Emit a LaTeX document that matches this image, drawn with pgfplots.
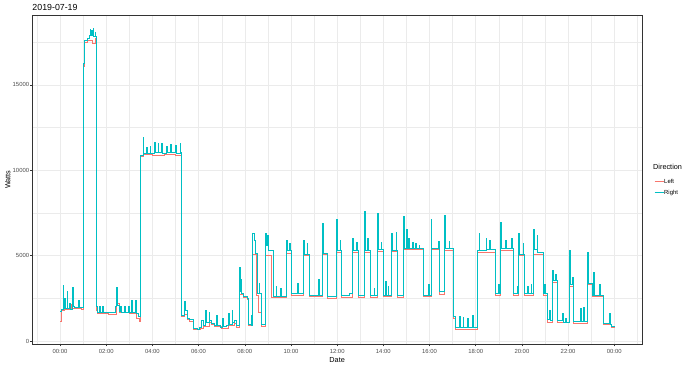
\documentclass[border=0pt]{standalone}
\usepackage{pgfplots}
\pgfplotsset{compat=1.18}
\usepackage{fontspec}
\setmainfont{Liberation Sans}
\definecolor{cLeft}{HTML}{F8766D}
\definecolor{cRight}{HTML}{00BFC4}
\definecolor{gridc}{HTML}{EBEBEB}
\definecolor{grey20}{HTML}{333333}
\definecolor{grey30}{HTML}{4D4D4D}
\begin{document}
\begin{tikzpicture}
\path[use as bounding box] (-32.3pt,-22.7pt) rectangle (657.7pt,344.3pt);
\begin{axis}[
  at={(0pt,0pt)}, anchor=south west,
  scale only axis, width=609.7pt, height=329.3pt,
  xmin=-1.2, xmax=25.2, ymin=-193, ymax=19098,
  scaled x ticks=false, scaled y ticks=false,
  xtick={0,2,...,24},
  xticklabels={00:00,02:00,04:00,06:00,08:00,10:00,12:00,14:00,16:00,18:00,20:00,22:00,00:00},
  ytick={0,5000,10000,15000},
  yticklabels={0,5000,10000,15000},
  minor xtick={-1,1,...,25},
  minor ytick={2500,7500,12500,17500},
  grid=both,
  major grid style={draw=gridc, line width=0.55pt},
  minor grid style={draw=gridc, line width=0.3pt},
  minor tick length=0pt,
  major tick length=2pt,
  tick align=outside,
  xtick pos=bottom, ytick pos=left,
  tick style={draw=grey20, line width=0.5pt},
  axis line style={draw=grey20, line width=0.5pt},
  xticklabel style={font=\fontsize{5.9}{6}\selectfont, text=grey30, inner sep=0pt, yshift=-2.6pt},
  yticklabel style={font=\fontsize{5.9}{6}\selectfont, text=grey30, inner sep=0pt, xshift=-1pt},
  title={2019-07-19},
  every axis title/.style={at={(axis description cs:0,1)}, anchor=south west, inner sep=0pt, yshift=4.5pt, font=\fontsize{8.8}{9}\selectfont},
  xlabel={Date}, ylabel={Watts},
  every axis x label/.style={at={(axis description cs:0.5,-0.0477)}, anchor=center, font=\fontsize{7.3}{8}\selectfont},
  every axis y label/.style={at={(axis description cs:-0.0399,0.5)}, rotate=90, anchor=center, font=\fontsize{7.3}{8}\selectfont},
  clip mode=individual,
  legend style={at={(axis description cs:1.0197,0.503)}, anchor=north west, draw=none, fill=none, inner sep=0pt,
    row sep=5.5pt, font=\fontsize{5.9}{6}\selectfont,
    nodes={inner sep=0pt, text height=4.3pt, text depth=1.2pt},
    /tikz/every even column/.append style={column sep=5pt}},
  legend cell align=left,
  legend image code/.code={\draw[#1, line width=1pt] (0pt,0pt) -- (9pt,0pt);},
]
\addplot[const plot mark left, draw=cLeft, line width=0.8pt] coordinates {
(0.00,1130) (0.04,1800) (0.20,1850) (0.42,2150) (0.50,1850) (0.55,1900) (0.92,1880)
(1.00,16100) (1.04,17500) (1.20,17600) (1.40,17450) (1.55,17700)
(1.57,1800) (1.62,1600) (2.10,1580) (2.42,2200) (2.55,1650) (3.00,1600) (3.30,1350) (3.45,1150)
(3.50,10800) (3.60,10950) (4.00,10900) (4.50,10950) (5.00,10900)
(5.27,1450) (5.40,1550) (5.50,1250) (5.60,1150) (5.79,680) (6.10,750) (6.20,850) (6.45,1100) (6.55,950)
(6.70,850) (7.00,750) (7.30,900) (7.55,1050) (7.62,820)
(7.76,2750) (7.95,2550) (8.10,2450) (8.16,900) (8.33,5100) (8.50,2700) (8.60,1700) (8.74,850)
(8.91,5000) (9.17,2550) (9.79,5150) (10.04,2700) (10.55,5000) (10.78,2600) (11.38,5050) (11.57,2500)
(11.95,5200) (12.20,2550) (12.68,5200) (12.92,2550) (13.19,5200) (13.42,2550) (13.74,5250) (14.01,2600)
(14.37,5230) (14.62,2580) (14.85,5350) (15.74,2600) (16.06,5350) (16.44,2750) (16.65,5300)
(17.04,1300) (17.12,700) (18.06,3400) (18.09,5200) (18.85,2700) (19.05,5300) (19.63,2700)
(19.86,5000) (20.11,2700) (20.51,5100) (20.91,2700) (21.09,1100) (21.33,3450) (21.52,1100)
(22.05,3200) (22.25,1030) (22.82,3300) (23.04,2590) (23.54,950) (23.86,800) (24.05,800)
};
\addlegendentry{Left}
\addplot[const plot mark left, draw=cRight, line width=0.8pt] coordinates {
(0.00,1750) (0.05,1880) (0.13,3250) (0.16,1900) (0.20,2500) (0.23,1900) (0.30,2900) (0.34,1900)
(0.40,2200) (0.43,1880) (0.53,3150) (0.56,2000) (0.62,1950) (0.80,2400) (0.83,1950) (0.92,1950)
(1.00,16270) (1.04,17600) (1.20,17700) (1.28,17900) (1.30,18250) (1.33,17900) (1.36,18200) (1.39,17900)
(1.43,18300) (1.46,17850) (1.52,18100) (1.55,17850)
(1.57,2000) (1.62,1700) (1.72,2050) (1.76,1700) (1.82,2050) (1.86,1700) (2.00,1700) (2.15,1650)
(2.40,2000) (2.46,3150) (2.49,2100) (2.55,1750) (2.62,2000) (2.66,1700) (2.78,2050) (2.82,1700)
(2.95,2000) (3.00,1700) (3.10,2400) (3.14,1700) (3.25,2400) (3.29,1600) (3.38,1450)
(3.50,10900) (3.60,11950) (3.63,11000) (3.75,11370) (3.78,11000) (3.90,11400) (3.93,11000)
(4.10,11650) (4.13,11050) (4.25,11600) (4.28,11050) (4.40,11550) (4.43,11000) (4.60,11400) (4.63,11050)
(4.80,11500) (4.83,11050) (5.00,11450) (5.03,11000) (5.20,11600) (5.23,11050)
(5.27,1500) (5.40,2300) (5.43,1800) (5.50,1350) (5.60,1250) (5.79,750) (5.95,700) (6.05,800)
(6.12,1200) (6.20,900) (6.30,1800) (6.33,1100) (6.45,1700) (6.48,1200) (6.55,1050) (6.70,900)
(6.78,1500) (6.81,900) (6.95,800) (7.05,1300) (7.08,850) (7.20,900) (7.30,1600) (7.33,1000)
(7.45,1800) (7.48,1100) (7.55,1200) (7.62,900)
(7.76,4300) (7.80,2900) (7.83,3600) (7.86,2800) (7.95,2600) (8.10,2500)
(8.16,1000) (8.27,1500) (8.30,900) (8.35,6300) (8.40,5900) (8.45,5150) (8.55,2800) (8.62,3400) (8.65,2800)
(8.74,950) (8.91,6300) (8.95,5600) (9.00,6200) (9.04,5300)
(9.22,2630) (9.35,3200) (9.38,2630) (9.55,3100) (9.58,2630)
(9.79,5900) (9.83,5300) (9.95,5700) (9.98,5300) (10.04,2800) (10.30,3400) (10.33,2800)
(10.55,5900) (10.59,5100) (10.70,5700) (10.73,5100) (10.78,2700) (11.20,3600) (11.23,2700)
(11.38,6900) (11.42,5150) (11.57,2600) (11.95,7100) (11.99,5300) (12.12,5900) (12.15,5300)
(12.20,2650) (12.55,2800) (12.68,6000) (12.72,5300) (12.83,5800) (12.86,5300) (12.92,2650)
(13.19,7600) (13.23,5300) (13.33,6000) (13.36,5300) (13.42,2650) (13.60,3100) (13.63,2650)
(13.74,7500) (13.78,5350) (13.90,5800) (13.93,5350) (14.01,2700) (14.10,3500) (14.13,2700)
(14.20,3200) (14.23,2700) (14.37,6300) (14.41,5330) (14.55,6350) (14.58,5330) (14.62,2690)
(14.85,7320) (14.89,5450) (15.00,6550) (15.03,5450) (15.10,6000) (15.13,5450) (15.25,5800) (15.28,5450)
(15.40,5700) (15.43,5400) (15.55,5600) (15.58,5400) (15.74,2700) (15.95,3300) (15.98,2700)
(16.06,7100) (16.10,5450) (16.38,5820) (16.41,5450) (16.44,2900) (16.65,7380) (16.69,5400)
(16.85,5850) (16.88,5400) (17.04,1430) (17.12,800) (17.30,1450) (17.33,800) (17.45,1400) (17.48,780)
(17.65,1300) (17.68,770) (17.85,1500) (17.88,770) (18.06,3600) (18.09,5300) (18.15,6300) (18.18,5300)
(18.45,6000) (18.48,5350) (18.60,5900) (18.63,5350) (18.85,2800) (19.00,3300) (19.03,2800)
(19.05,6930) (19.09,5400) (19.30,5900) (19.33,5400) (19.55,6000) (19.58,5400) (19.63,2800)
(19.80,3200) (19.83,2800) (19.86,6300) (19.90,5100) (20.05,5700) (20.08,5100) (20.11,2800)
(20.25,3200) (20.28,2800) (20.40,3300) (20.43,2800) (20.51,6540) (20.55,5350) (20.65,6200) (20.68,5200)
(20.91,2800) (20.98,3300) (21.01,2800) (21.09,1250) (21.20,1800) (21.23,1200) (21.33,4150) (21.37,3570)
(21.45,3900) (21.48,3570) (21.52,1200) (21.75,1600) (21.78,1100) (21.90,1300) (21.93,1100)
(22.05,5300) (22.09,3300) (22.20,3700) (22.23,3300) (22.25,1130) (22.55,1900) (22.58,1130)
(22.68,1950) (22.71,1130) (22.82,5200) (22.86,3400) (23.04,2690) (23.10,4000) (23.13,2690)
(23.35,3300) (23.38,2690) (23.54,1050) (23.80,1600) (23.83,1000) (23.86,880) (24.05,880)
};
\addlegendentry{Right}
\node[anchor=west, inner sep=0pt, font=\fontsize{7.3}{8}\selectfont] at (axis description cs:1.018,0.5384) {Direction};
\end{axis}
\end{tikzpicture}
\end{document}
